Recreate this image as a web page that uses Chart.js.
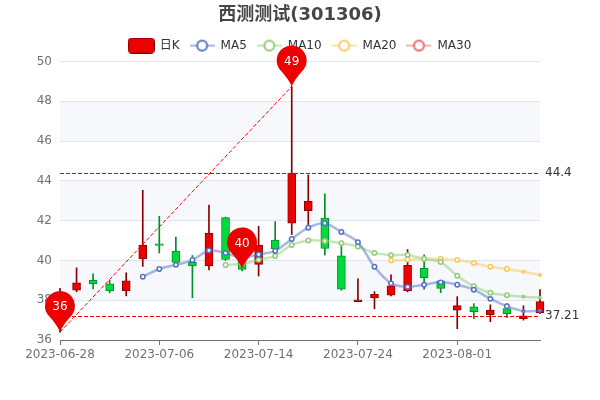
<!DOCTYPE html>
<html>
<head>
<meta charset="utf-8">
<script src="https://cdn.jsdelivr.net/npm/chart.js@4"></script>
<style>
  html, body { margin: 0; padding: 0; background: #fff; }
  canvas { display: block; }
</style>
</head>
<body>
<canvas id="klineChart" width="600" height="400"></canvas>
<script>
var dates = ["2023-06-28", "2023-06-29", "2023-06-30", "2023-07-03", "2023-07-04", "2023-07-05",
  "2023-07-06", "2023-07-07", "2023-07-10", "2023-07-11", "2023-07-12", "2023-07-13",
  "2023-07-14", "2023-07-17", "2023-07-18", "2023-07-19", "2023-07-20", "2023-07-21",
  "2023-07-24", "2023-07-25", "2023-07-26", "2023-07-27", "2023-07-28", "2023-07-31",
  "2023-08-01", "2023-08-02", "2023-08-03", "2023-08-04", "2023-08-07", "2023-08-08"];

var opens = [37.5, 38.5, 39.0, 38.82, 38.48, 40.08, 40.83, 40.47, 39.9, 39.73, 42.15, 39.95,
  39.8, 41.03, 41.87, 42.5, 42.13, 40.23, 37.93, 38.12, 38.25, 38.47, 39.6, 38.98,
  37.5, 37.67, 37.28, 37.58, 37.07, 37.37];
var closes = [38.2, 38.88, 38.83, 38.48, 38.97, 40.77, 40.75, 39.9, 39.72, 41.38, 40.05, 39.55,
  40.77, 40.58, 44.4, 42.97, 40.6, 38.55, 38.02, 38.3, 38.73, 39.75, 39.13, 38.6,
  37.73, 37.43, 37.5, 37.33, 37.21, 37.93];
var lows = [36.4, 38.42, 38.57, 38.37, 38.22, 39.7, 40.37, 39.88, 38.12, 39.52, 40.0, 39.48,
  39.22, 40.55, 41.3, 41.7, 40.27, 38.5, 37.93, 37.57, 38.22, 38.42, 38.55, 38.38,
  36.57, 37.07, 36.92, 37.12, 37.0, 37.32];
var highs = [38.6, 39.63, 39.33, 39.0, 39.38, 43.53, 42.22, 41.18, 40.25, 42.78, 42.18, 40.3,
  41.72, 41.95, 48.75, 44.3, 43.35, 40.7, 39.07, 38.43, 39.28, 40.55, 40.28, 39.0,
  38.18, 37.83, 37.77, 37.83, 37.72, 38.53];

var ma5 = [null, null, null, null, null, 39.18, 39.57, 39.78, 40.02, 40.5, 40.37, 40.15,
  40.3, 40.48, 41.08, 41.65, 41.87, 41.43, 40.92, 39.68, 38.85, 38.67, 38.78, 38.9,
  38.78, 38.53, 38.07, 37.7, 37.45, 37.47];
var ma10 = [null, null, null, null, null, null, null, null, null, null, 39.77, 39.83,
  40.03, 40.23, 40.78, 41.0, 40.98, 40.87, 40.7, 40.38, 40.27, 40.28, 40.08, 39.92,
  39.23, 38.7, 38.38, 38.25, 38.18, 38.13];
var ma20 = [null, null, null, null, null, null, null, null, null, null, null, null,
  null, null, null, null, null, null, null, null, 40.0, 40.05, 40.08, 40.07,
  40.02, 39.87, 39.68, 39.57, 39.43, 39.27];
var ma30 = [];

var yTicks = [36, 38, 40, 42, 44, 46, 48, 50];
var markLevels = [44.4, 37.21];
var pinIndexes = [0, 11, 14];
var pinValues = [36.4, 39.6, 48.75];

var upColor = "#ec0000";
var upBorder = "#8a0000";
var downColor = "#00da3c";
var downBorder = "#008f28";
var markColor = "#ff0000";
var fontName = '"DejaVu Sans", "Noto Sans CJK SC", sans-serif';

function isUp(i) {
  return closes[i] >= opens[i];
}

function lineIcon(color) {
  var c = document.createElement("canvas");
  c.width = 25;
  c.height = 14;
  var ctx = c.getContext("2d");
  ctx.globalAlpha = 0.5;
  ctx.strokeStyle = color;
  ctx.lineWidth = 2;
  ctx.beginPath();
  ctx.moveTo(0, 7);
  ctx.lineTo(25, 7);
  ctx.stroke();
  ctx.globalAlpha = 1;
  ctx.fillStyle = "#fff";
  ctx.lineWidth = 2;
  ctx.beginPath();
  ctx.arc(12.5, 7, 5, 0, Math.PI * 2);
  ctx.fill();
  ctx.stroke();
  return c;
}

function candleIcon() {
  var c = document.createElement("canvas");
  c.width = 27;
  c.height = 16;
  var ctx = c.getContext("2d");
  ctx.fillStyle = upColor;
  ctx.strokeStyle = upBorder;
  ctx.lineWidth = 1;
  ctx.beginPath();
  ctx.roundRect(0.5, 0.5, 26, 15, 3);
  ctx.fill();
  ctx.stroke();
  return c;
}

var legendNames = ["日K", "MA5", "MA10", "MA20", "MA30"];
var legendIcons = [candleIcon(), lineIcon("#5470c6"), lineIcon("#91cc75"), lineIcon("#fac858"), lineIcon("#ee6666")];

function maDataset(label, values, color) {
  return {
    type: "line",
    label: label,
    data: values,
    yAxisID: "y",
    order: 1,
    borderColor: color + "80",
    borderWidth: 2.5,
    tension: 0.3,
    clip: false,
    pointRadius: function (ctx) {
      return ctx.dataIndex >= 28 ? 1.2 : 2.2;
    },
    pointBorderWidth: 1.5,
    pointBorderColor: color,
    pointBackgroundColor: "#ffffff"
  };
}

var backgroundBands = {
  id: "backgroundBands",
  beforeDatasetsDraw: function (chart) {
    var area = chart.chartArea;
    var y = chart.scales.y;
    var ctx = chart.ctx;
    ctx.save();
    ctx.fillStyle = "rgba(210,219,238,0.2)";
    for (var i = 1; i < yTicks.length - 1; i += 2) {
      var top = y.getPixelForValue(yTicks[i + 1]);
      var bottom = y.getPixelForValue(yTicks[i]);
      ctx.fillRect(area.left, top, area.right - area.left, bottom - top);
    }
    ctx.restore();
  }
};

var markLines = {
  id: "markLines",
  afterDatasetsDraw: function (chart) {
    var area = chart.chartArea;
    var x = chart.scales.x;
    var y = chart.scales.y;
    var ctx = chart.ctx;
    ctx.save();
    ctx.strokeStyle = markColor;
    ctx.lineWidth = 1;
    ctx.setLineDash([4, 2]);
    markLevels.forEach(function (level) {
      var py = Math.round(y.getPixelForValue(level)) + 0.5;
      ctx.beginPath();
      ctx.moveTo(area.left, py);
      ctx.lineTo(area.right, py);
      ctx.stroke();
    });
    ctx.beginPath();
    ctx.moveTo(x.getPixelForValue(pinIndexes[0]), y.getPixelForValue(pinValues[0]));
    ctx.lineTo(x.getPixelForValue(pinIndexes[2]), y.getPixelForValue(pinValues[2]));
    ctx.stroke();
    ctx.setLineDash([]);
    ctx.fillStyle = "#333";
    ctx.font = "12px " + fontName;
    ctx.textBaseline = "middle";
    ctx.textAlign = "left";
    markLevels.forEach(function (level) {
      ctx.fillText(String(level), area.right + 5, y.getPixelForValue(level));
    });
    ctx.restore();
  }
};

var pins = {
  id: "pins",
  afterDraw: function (chart) {
    var x = chart.scales.x;
    var y = chart.scales.y;
    var ctx = chart.ctx;
    var r = 15;
    var a = Math.PI * 0.2;
    ctx.save();
    pinIndexes.forEach(function (index, i) {
      var px = x.getPixelForValue(index);
      var tip = y.getPixelForValue(pinValues[i]);
      var cy = tip - 26;
      ctx.fillStyle = upColor;
      ctx.beginPath();
      ctx.arc(px, cy, r, Math.PI - a, Math.PI * 2 + a);
      ctx.quadraticCurveTo(px + r * 0.2, cy + r * 1.25, px, tip);
      ctx.quadraticCurveTo(px - r * 0.2, cy + r * 1.25, px - r * Math.cos(a), cy + r * Math.sin(a));
      ctx.fill();
      ctx.fillStyle = "#fff";
      ctx.font = "12px " + fontName;
      ctx.textAlign = "center";
      ctx.textBaseline = "middle";
      ctx.fillText(pinValues[i].toFixed(0), px, cy + 1);
    });
    ctx.restore();
  }
};

new Chart(document.getElementById("klineChart"), {
  type: "bar",
  data: {
    labels: dates,
    datasets: [
      maDataset("MA5", ma5, "#5470c6"),
      maDataset("MA10", ma10, "#91cc75"),
      maDataset("MA20", ma20, "#fac858"),
      maDataset("MA30", ma30, "#ee6666"),
      {
        label: "日K",
        data: dates.map(function (d, i) { return [opens[i], closes[i]]; }),
        yAxisID: "y",
        order: 2,
        grouped: false,
        clip: false,
        barThickness: 8,
        borderWidth: 1,
        borderSkipped: false,
        backgroundColor: dates.map(function (d, i) { return isUp(i) ? upColor : downColor; }),
        borderColor: dates.map(function (d, i) { return isUp(i) ? upBorder : downBorder; })
      },
      {
        label: "wick",
        data: dates.map(function (d, i) { return [lows[i], highs[i]]; }),
        yAxisID: "y",
        order: 3,
        grouped: false,
        clip: false,
        barThickness: 1,
        borderWidth: 0,
        backgroundColor: dates.map(function (d, i) { return isUp(i) ? upBorder : downBorder; })
      }
    ]
  },
  plugins: [backgroundBands, markLines, pins],
  options: {
    responsive: false,
    animation: false,
    layout: { padding: 0 },
    plugins: {
      tooltip: { enabled: false },
      title: {
        display: true,
        text: "西测测试(301306)",
        color: "#464646",
        font: { family: fontName, size: 18, weight: "bold" },
        padding: { top: 5, bottom: 3 }
      },
      legend: {
        display: true,
        labels: {
          usePointStyle: true,
          pointStyleWidth: 25,
          padding: 10,
          color: "#333",
          font: { family: fontName, size: 12 },
          generateLabels: function () {
            return legendNames.map(function (name, i) {
              return { text: name, pointStyle: legendIcons[i], fontColor: "#333", lineWidth: 0, hidden: false };
            });
          }
        }
      }
    },
    scales: {
      x: {
        offset: false,
        grid: { offset: false, drawOnChartArea: false, drawTicks: true, tickLength: 5, tickColor: "#6e7079" },
        border: { display: true, color: "#6e7079" },
        ticks: {
          autoSkip: false,
          maxRotation: 0,
          color: "#6e7079",
          padding: 3,
          font: { family: fontName, size: 12 }
        },
        afterBuildTicks: function (scale) {
          scale.ticks = scale.ticks.filter(function (t) { return t.value % 6 === 0; });
        },
        afterFit: function (scale) {
          scale.height = 60;
        }
      },
      y: {
        min: yTicks[0],
        max: yTicks[yTicks.length - 1],
        grid: { color: "#e0e6f1", drawTicks: false },
        border: { display: false },
        ticks: {
          stepSize: 2,
          padding: 8,
          color: "#6e7079",
          font: { family: fontName, size: 12 }
        },
        afterFit: function (scale) {
          scale.width = 60;
        }
      },
      // empty axis that only reserves the right margin, so title and legend stay centred on the page
      yRight: {
        position: "right",
        min: yTicks[0],
        max: yTicks[yTicks.length - 1],
        grid: { display: false },
        border: { display: false },
        ticks: { display: false },
        afterFit: function (scale) {
          scale.width = 60;
        }
      }
    }
  }
});
</script>
</body>
</html>
